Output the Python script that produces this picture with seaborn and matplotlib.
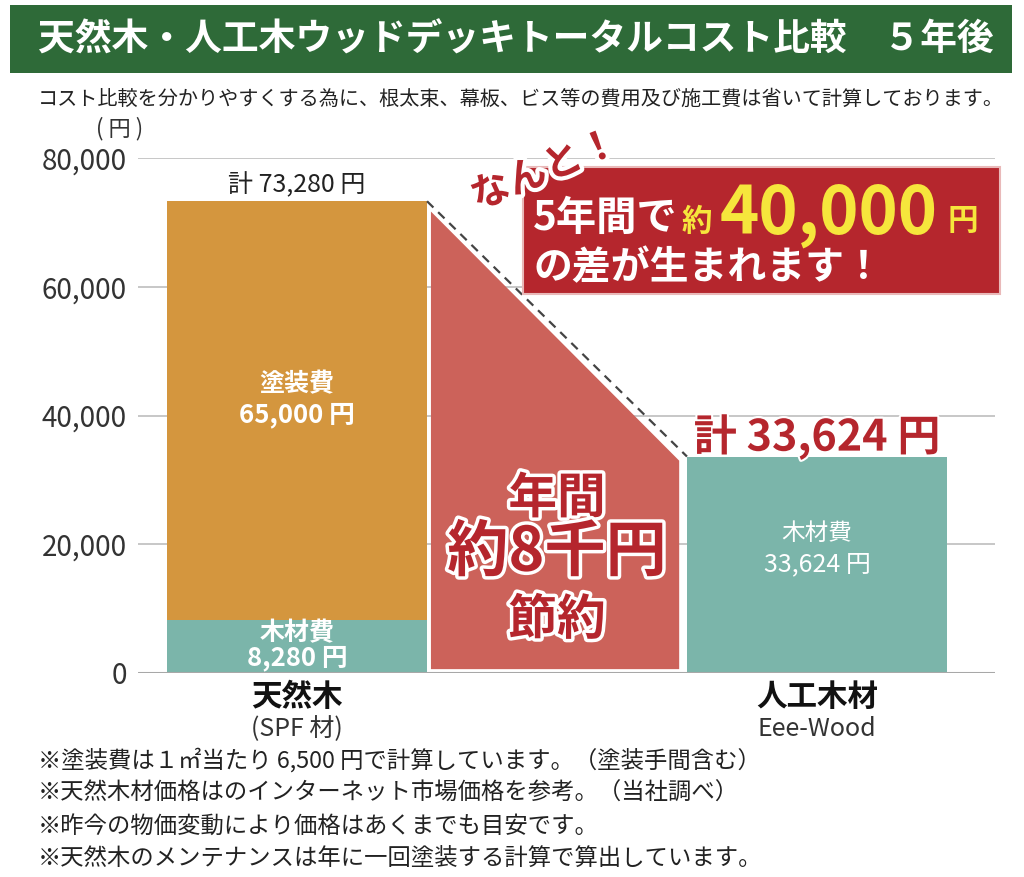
import matplotlib
matplotlib.use("Agg")
import matplotlib.pyplot as plt
import matplotlib.patheffects as pe
from matplotlib.patches import Rectangle, Polygon
import seaborn as sns
import pandas as pd

# ---------------- data ----------------
categories = ["天然木", "差額", "人工木材"]
category_sub = ["(SPF 材)", "", "Eee-Wood"]
wood_cost = [8280, None, 33624]          # 木材費
paint_cost = [65000, None, 0]            # 塗装費
yticks = [0, 20000, 40000, 60000, 80000]
title = "天然木・人工木ウッドデッキトータルコスト比較　５年後"
subtitle = "コスト比較を分かりやすくする為に、根太束、幕板、ビス等の費用及び施工費は省いて計算しております。"
notes = [
    "※塗装費は１㎡当たり 6,500 円で計算しています。（塗装手間含む）",
    "※天然木材価格はのインターネット市場価格を参考。（当社調べ）",
    "※昨今の物価変動により価格はあくまでも目安です。",
    "※天然木のメンテナンスは年に一回塗装する計算で算出しています。",
]

totals = [(w or 0) + (p or 0) for w, p in zip(wood_cost, paint_cost)]

# ---------------- style ----------------
sns.set_theme(style="white")
JP = ["Noto Sans CJK JP", "DejaVu Sans"]
plt.rcParams["font.family"] = JP

ORANGE = "#D4963E"
TEAL = "#7BB5AA"
MIDRED = "#CC625A"
DARKRED = "#B5262D"
GREEN = "#2E6A38"
YELLOW = "#F6E63C"

W, H = 1024, 877
fig = plt.figure(figsize=(W / 100, H / 100), dpi=100)
fig.patch.set_facecolor("white")


def fx(x):
    return x / W


def fy(y):
    return 1 - y / H


ax = fig.add_axes([fx(138), fy(673), fx(995) - fx(138), fy(158) - fy(673)])

df = pd.DataFrame({
    "cat": categories,
    "total": totals,
    "wood": [w if w is not None else 0 for w in wood_cost],
})
df_bars = df[df["cat"] != categories[1]]

sns.barplot(data=df_bars, x="cat", y="total", order=categories, color=ORANGE,
            width=1.0, saturation=1, linewidth=0, ax=ax, zorder=2)
sns.barplot(data=df_bars, x="cat", y="wood", order=categories, color=TEAL,
            width=1.0, saturation=1, linewidth=0, ax=ax, zorder=3)

ax.set_xlim(-0.612, 2.685)
ax.set_ylim(0, 80000)
ax.set_yticks(yticks)
ax.set_yticklabels([f"{v:,}" for v in yticks], fontsize=20, color="#333333")
ax.tick_params(axis="y", length=0, pad=8)
ax.set_xticks([])
ax.set_xlabel("")
ax.set_ylabel("")
for s in ax.spines.values():
    s.set_visible(False)
for v in yticks[1:]:
    ax.axhline(v, color="#BDBDBD", lw=1.2, zorder=0)
ax.axhline(0, color="#A8A8A8", lw=2.2, zorder=5)

# savings polygon between bars
left_top, right_top = totals[0], totals[2]
inset = 1600
poly = Polygon([(0.515, 600), (0.515, left_top - inset), (1.47, right_top - inset * 0.4),
                (1.47, 600)], closed=True, facecolor=MIDRED, edgecolor="none", zorder=2)
ax.add_patch(poly)
ax.plot([0.5, 1.5], [left_top, right_top], ls=(0, (4, 3)), color="#444444", lw=1.6, zorder=4)

# ---------------- texts in the plot ----------------
outline_w = [pe.withStroke(linewidth=5, foreground="white")]

ax.text(0, left_top + 2500, f"計 {left_top:,} 円", ha="center", va="center",
        fontsize=18, color="#222222")
ax.text(2, right_top + 3000, f"計 {right_top:,} 円", ha="center", va="center",
        fontsize=31, color=DARKRED, fontweight="bold",
        path_effects=[pe.withStroke(linewidth=3, foreground="white")])

mid_paint = wood_cost[0] + paint_cost[0] / 2
ax.text(0, mid_paint + 4100, "塗装費", ha="center", va="center",
        fontsize=18, color="white", fontweight="bold")
ax.text(0, mid_paint - 700, f"{paint_cost[0]:,} 円", ha="center",
        va="center", fontsize=18.5, color="white", fontweight="bold")
ax.text(0, 6200, "木材費", ha="center", va="center", fontsize=18, color="white", fontweight="bold")
ax.text(0, 2350, f"{wood_cost[0]:,} 円", ha="center", va="center", fontsize=18.5,
        color="white", fontweight="bold")
ax.text(2, 21750, "木材費", ha="center", va="center", fontsize=17, color="white")
ax.text(2, 16900, f"{wood_cost[2]:,} 円", ha="center", va="center", fontsize=18, color="white")

ax.text(1.0, 27100, "年間", ha="center", va="center", fontsize=35, color=DARKRED,
        fontweight="bold", path_effects=outline_w)
ax.text(1.0, 18640, "約8千円", ha="center", va="center", fontsize=44, color=DARKRED,
        fontweight="bold", path_effects=outline_w)
ax.text(1.0, 8233, "節約", ha="center", va="center", fontsize=35, color=DARKRED,
        fontweight="bold", path_effects=outline_w)

# category labels
for i, (c, sub) in enumerate(zip(categories, category_sub)):
    if not sub:
        continue
    ax.text(i, -3730, c, ha="center", va="center", fontsize=22, fontweight="bold",
            color="#111111", clip_on=False)
    ax.text(i, -8700, sub, ha="center", va="center", fontsize=18, color="#333333", clip_on=False)

# ---------------- header ----------------
fig.patches.append(Rectangle((fx(10), fy(73)), fx(1012) - fx(10), fy(5) - fy(73),
                             transform=fig.transFigure, facecolor=GREEN, edgecolor="none"))
fig.text(fx(516), fy(40), title, ha="center", va="center", fontsize=26.5,
         fontweight="bold", color="white")
fig.text(fx(521), fy(99), subtitle, ha="center", va="center", fontsize=14.5, color="#222222")
fig.text(fx(120), fy(129), "( 円 )", ha="center", va="center", fontsize=16, color="#333333")

# ---------------- callout ----------------
fig.patches.append(Rectangle((fx(523), fy(294)), fx(1000) - fx(523), fy(167) - fy(294),
                             transform=fig.transFigure, facecolor=DARKRED,
                             edgecolor="#E9B9B9", linewidth=1.5))
fig.text(fx(545), fy(170), "なんと！", ha="center", va="center", fontsize=28,
         fontweight="bold", color=DARKRED, rotation=22,
         path_effects=[pe.withStroke(linewidth=6, foreground="white")])
fig.text(fx(533), fy(218), "5年間で", ha="left", va="center", fontsize=29,
         fontweight="bold", color="white")
fig.text(fx(682), fy(222), "約", ha="left", va="center", fontsize=22,
         fontweight="bold", color=YELLOW)
fig.text(fx(720), fy(214), "40,000", ha="left", va="center", fontsize=48,
         fontweight="bold", color=YELLOW)
fig.text(fx(948), fy(221), "円", ha="left", va="center", fontsize=22,
         fontweight="bold", color=YELLOW)
fig.text(fx(533), fy(268), "の差が生まれます！", ha="left", va="center", fontsize=28,
         fontweight="bold", color="white")

# ---------------- notes ----------------
for k, n in enumerate(notes):
    fig.text(fx(38), fy(760 + 33.3 * k), n, ha="left", va="center", fontsize=16.8, color="#222222")

fig.savefig("out.png", dpi=100, facecolor="white")
